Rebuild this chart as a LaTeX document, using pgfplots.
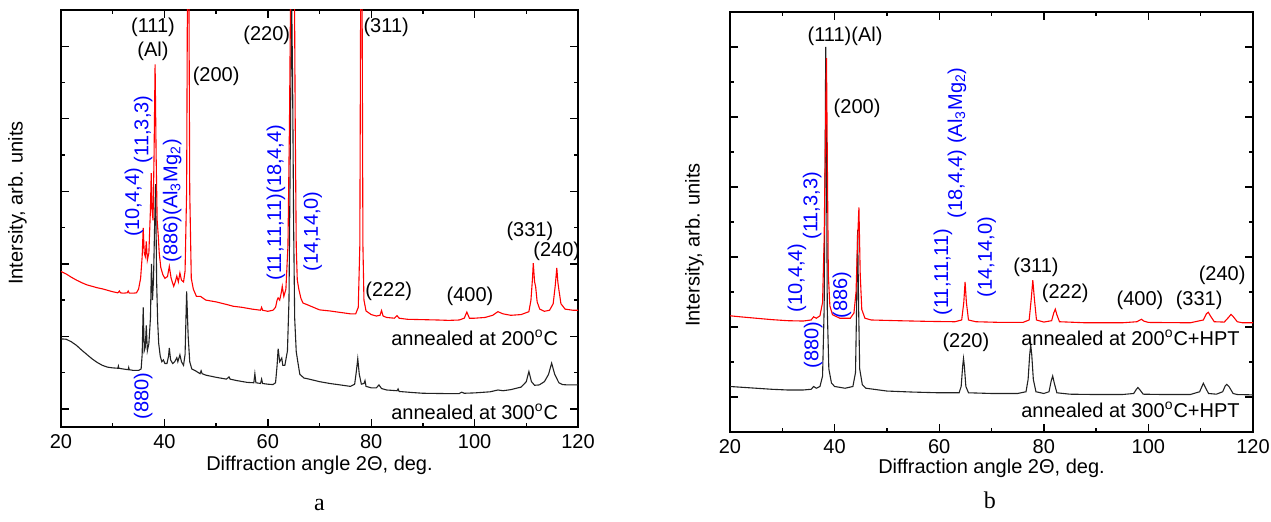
\documentclass[border=0pt]{standalone}
\usepackage{fontspec}
\setmainfont{Liberation Sans}
\newfontfamily\capfont{Liberation Serif}
\usepackage{pgfplots}
\pgfplotsset{compat=1.18}
\definecolor{cR}{HTML}{FF0000}
\definecolor{cK}{HTML}{222222}
\definecolor{cB}{HTML}{0000FF}
\pgfplotsset{
  xrd/.style={
    scale only axis, clip mode=individual,
    xmin=20, xmax=120, xtick={20,40,...,120}, minor x tick num=1,
    ytick={0,2,...,10}, minor ytick={1,3,...,9}, yticklabels={},
    major tick length=4pt, minor tick length=2pt,
    axis line style={line width=0.9pt}, tick style={line width=0.7pt,black},
    /pgf/number format/assume math mode=true,
    xlabel={Diffraction angle 2Θ, deg.}, ylabel={Intersity, arb. units}},
  spec/.style={line width=0.55pt, mark=none},
}
\begin{document}
\begin{tikzpicture}
\path[use as bounding box] (0,0) rectangle (635.5pt,261pt);

% ---------- panel a ----------
\begin{axis}[xrd, at={(30.5pt,47.5pt)}, anchor=south west,
  width=258.5pt, height=208.5pt, ymin=-0.5, ymax=11,
  xlabel style={at={(axis description cs:0.5,-0.091)},anchor=center},
  ylabel style={at={(axis description cs:-0.084,0.537)},anchor=center}]
\addplot[spec,cK] coordinates {
(20,1.93)(21,1.92)(22,1.85)(23,1.75)(24,1.62)(25,1.5)(26,1.38)(27,1.28)(28,1.2)(29,1.15)(30,1.13)
(31,1.12)(31.1,1.18)(31.2,1.12)(32,1.1)(33,1.08)(33.1,1.14)(33.2,1.08)(34,1.06)(35,1.06)(35.5,1.1)
(35.7,1.5)(35.9,2.8)(36.1,1.6)(36.3,1.7)(36.5,2.3)(36.7,1.6)(37.0,1.8)(37.3,2.5)(37.5,4.0)(37.7,3.0)
(37.9,3.6)(38.1,5.0)(38.3,6.2)(38.5,3.5)(38.7,2.4)(38.9,1.8)(39.2,1.45)(39.5,1.3)(39.8,1.35)(40.1,1.25)
(40.5,1.25)(40.8,1.45)(40.95,1.68)(41.2,1.35)(41.6,1.25)(42.0,1.3)(42.4,1.41)(42.6,1.3)(43.0,1.49)
(43.3,1.3)(43.7,1.2)(44.0,1.5)(44.3,3.24)(44.6,2.0)(44.9,1.3)(45.3,1.1)(46,1.05)(46.9,0.97)(47.1,1.05)
(47.3,0.97)(48,0.93)(50,0.87)(52,0.82)(52.5,0.88)(52.7,0.82)(54,0.78)(56,0.73)(57.3,0.72)(57.5,0.97)
(57.7,0.72)(58.6,0.7)(58.8,0.82)(59,0.7)(60,0.68)(61,0.67)(61.5,0.72)(61.8,1.2)(62.0,1.66)(62.3,1.3)
(62.5,1.35)(62.7,1.4)(62.9,1.2)(63.3,1.2)(63.8,1.6)(64.1,3.0)(64.4,8.0)(64.6,11.5)(64.8,9.0)(65.0,5.0)
(65.2,2.5)(65.5,1.58)(65.8,1.3)(66.2,0.95)(67,0.85)(68,0.82)(70,0.75)(72,0.7)(74,0.66)(76,0.62)
(76.8,0.68)(77.1,1.0)(77.4,1.38)(77.7,0.95)(78.1,0.68)(78.6,0.7)(78.8,0.78)(79,0.62)(80,0.58)(81,0.58)
(81.5,0.66)(82,0.56)(83,0.52)(85,0.5)(85.2,0.55)(85.4,0.48)(88,0.45)(90,0.43)(95,0.42)(97,0.42)
(97.5,0.46)(98,0.43)(100,0.44)(103,0.47)(104.5,0.52)(105.5,0.5)(107,0.53)(109,0.6)(110,0.75)
(110.5,1.03)(111,0.75)(111.6,0.65)(112.5,0.66)(113.5,0.75)(114.3,0.95)(114.9,1.26)(115.5,0.95)
(116.3,0.72)(117,0.67)(118,0.66)(120,0.66)};
\addplot[spec,cR] coordinates {
(20,3.79)(21,3.72)(22,3.63)(23,3.55)(24,3.48)(25,3.42)(26,3.38)(27,3.34)(28,3.31)(29,3.27)(30,3.23)
(31,3.2)(31.3,3.25)(31.5,3.2)(32,3.19)(32.8,3.2)(33,3.25)(33.2,3.19)(34,3.19)(34.6,3.2)(35,3.3)
(35.4,3.6)(35.7,4.2)(35.9,4.99)(36.1,4.3)(36.3,4.2)(36.5,4.62)(36.7,4.1)(37.0,4.3)(37.3,5.5)
(37.45,6.5)(37.6,5.5)(37.8,5.2)(38.0,7.0)(38.2,9.5)(38.4,7.0)(38.6,5.2)(38.8,4.8)(39.0,4.3)(39.3,3.9)
(39.7,3.7)(40.1,3.6)(40.6,3.65)(40.95,3.93)(41.3,3.6)(41.8,3.38)(42.1,3.5)(42.4,3.66)(42.7,3.5)
(43.0,3.75)(43.3,3.55)(43.7,3.5)(44.0,3.8)(44.3,6)(44.5,13)(44.7,13)(44.9,6)(45.2,3.6)(45.6,3.3)
(46.2,3.1)(47,3.1)(47.5,3.05)(48,3.0)(50,2.95)(52,2.88)(53.3,2.83)(55,2.8)(57,2.75)(58.6,2.72)
(58.8,2.8)(59,2.72)(60,2.69)(61,2.72)(61.5,2.8)(61.8,3.0)(62.0,3.06)(62.3,3.0)(62.6,3.2)(62.8,3.38)
(63.1,3.1)(63.5,3.3)(63.9,4.5)(64.2,8)(64.5,13)(65.1,13)(65.3,8)(65.5,4.5)(65.7,3.56)(66,3.3)
(66.4,3.05)(66.8,2.92)(68,2.85)(70,2.73)(72,2.7)(74,2.66)(76,2.62)(77,2.62)(77.5,2.8)(77.8,4.5)
(78.0,13)(78.2,13)(78.4,4.5)(78.6,3.0)(79,2.7)(80,2.6)(81,2.56)(81.7,2.58)(82,2.71)(82.3,2.56)
(83,2.52)(84.5,2.5)(85,2.57)(85.4,2.5)(87,2.47)(90,2.46)(93,2.45)(95,2.44)(97,2.45)(98,2.5)
(98.5,2.67)(99,2.5)(100,2.5)(102,2.52)(103.5,2.58)(104.5,2.68)(105.5,2.62)(107,2.58)(109,2.6)
(110.5,2.68)(110.9,3.0)(111.2,3.6)(111.35,4.02)(111.6,3.5)(111.8,3.38)(112.1,2.95)(112.6,2.75)
(113.5,2.69)(114.5,2.72)(115.2,2.9)(115.6,3.4)(115.9,3.89)(116.1,3.5)(116.3,3.29)(116.7,2.9)
(117.5,2.75)(119,2.72)(120,2.72)};
% reflections
\node at (axis cs:37.8,10.52) {(111)};
\node at (axis cs:37.8,9.86) {(Al)};
\node at (axis cs:50.0,9.17) {(200)};
\node at (axis cs:59.8,10.3) {(220)};
\node at (axis cs:82.9,10.52) {(311)};
\node at (axis cs:83.4,3.23) {(222)};
\node at (axis cs:99.1,3.09) {(400)};
\node at (axis cs:110.7,4.89) {(331)};
\node at (axis cs:115.9,4.34) {(240)};
\node[anchor=east] at (axis cs:117.5,1.96) {annealed at 200\textsuperscript{o}C};
\node[anchor=east] at (axis cs:117.5,-0.08) {annealed at 300\textsuperscript{o}C};
\begin{scope}[every node/.style={cB,rotate=90}]
\node at (axis cs:34.1,5.69) {(10,4,4)};
\node at (axis cs:35.9,7.71) {(11,3,3)};
\node at (axis cs:41.5,5.74) {(886)(Al\textsubscript{3}Mg\textsubscript{2})};
\node at (axis cs:35.9,0.36) {(880)};
\node at (axis cs:61.6,5.69) {(11,11,11)(18,4,4)};
\node at (axis cs:68.7,4.89) {(14,14,0)};
\end{scope}
\node[font=\capfont\large] at (axis description cs:0.5,-0.187) {a};
\end{axis}

% ---------- panel b ----------
\begin{axis}[xrd, at={(365pt,45pt)}, anchor=south west,
  width=261.5pt, height=210pt, ymin=-1, ymax=11,
  xlabel style={at={(axis description cs:0.5,-0.086)},anchor=center},
  ylabel style={at={(axis description cs:-0.068,0.445)},anchor=center}]
\addplot[spec,cK] coordinates {
(20,0.3)(22,0.28)(25,0.25)(28,0.22)(31,0.2)(34,0.2)(35.5,0.22)(36,0.3)(36.5,0.25)(37.2,0.3)
(37.7,0.6)(38.0,2.5)(38.2,7)(38.3,10.0)(38.45,7)(38.6,2.5)(38.9,0.8)(39.4,0.4)(40,0.3)(42,0.25)
(43.5,0.3)(44,0.7)(44.2,2.5)(44.4,4.77)(44.6,2.5)(44.8,0.8)(45.3,0.35)(46,0.25)(50,0.17)(55,0.14)
(60,0.12)(63.8,0.12)(64.2,0.3)(64.5,0.9)(64.65,1.1)(64.8,0.9)(65.1,0.3)(65.6,0.12)(70,0.1)(75,0.1)
(76.6,0.15)(77.0,0.5)(77.3,1.2)(77.5,1.49)(77.7,1.2)(78.0,0.5)(78.5,0.15)(80,0.1)(81.0,0.15)
(81.4,0.45)(81.7,0.6)(82.0,0.4)(82.5,0.12)(85,0.08)(90,0.07)(95,0.07)(97.2,0.1)(97.7,0.22)(98,0.27)
(98.4,0.2)(99,0.08)(103,0.07)(108,0.07)(109.8,0.15)(110.3,0.32)(110.5,0.39)(110.8,0.3)(111.5,0.1)
(113,0.08)(114.2,0.15)(114.7,0.32)(115,0.36)(115.4,0.3)(116.2,0.1)(117,0.07)(120,0.06)};
\addplot[spec,cR] coordinates {
(20,2.32)(22,2.29)(25,2.25)(28,2.21)(31,2.18)(34,2.17)(35.5,2.2)(36,2.29)(36.5,2.25)(37.2,2.32)
(37.7,2.7)(38.0,4.5)(38.3,8)(38.45,9.68)(38.6,7)(38.8,3.5)(39.1,2.6)(39.6,2.35)(41,2.25)(43,2.25)
(43.7,2.4)(44.1,3.0)(44.4,4.5)(44.65,5.42)(44.9,3.5)(45.2,2.5)(45.8,2.25)(47,2.2)(52,2.18)(58,2.16)
(63,2.15)(64.3,2.2)(64.7,2.7)(64.95,3.29)(65.2,2.7)(65.6,2.2)(67,2.15)(72,2.13)(76,2.13)(77.2,2.2)
(77.6,2.8)(77.9,3.34)(78.2,2.8)(78.6,2.2)(80,2.14)(81.5,2.18)(81.9,2.4)(82.2,2.51)(82.5,2.35)
(83,2.15)(88,2.12)(95,2.12)(97.8,2.15)(98.4,2.2)(98.7,2.22)(99.1,2.17)(100,2.13)(108,2.12)
(110.5,2.2)(111.1,2.38)(111.45,2.42)(111.8,2.33)(112.6,2.15)(114.5,2.14)(115.3,2.27)(115.8,2.36)
(116.2,2.3)(117,2.15)(118,2.12)(120,2.12)};
\node at (axis cs:42.0,10.31) {(111)(Al)};
\node at (axis cs:44.3,8.26) {(200)};
\node at (axis cs:65.1,1.57) {(220)};
\node at (axis cs:78.5,3.71) {(311)};
\node at (axis cs:84.1,2.97) {(222)};
\node at (axis cs:98.4,2.77) {(400)};
\node at (axis cs:109.7,2.77) {(331)};
\node at (axis cs:114.1,3.49) {(240)};
\node[anchor=east] at (axis cs:118.8,1.69) {annealed at 200\textsuperscript{o}C+HPT};
\node[anchor=east] at (axis cs:118.8,-0.37) {annealed at 300\textsuperscript{o}C+HPT};
\begin{scope}[every node/.style={cB,rotate=90}]
\node at (axis cs:32.8,3.4) {(10,4,4)};
\node at (axis cs:35.7,5.46) {(11,3,3)};
\node at (axis cs:35.9,1.49) {(880)};
\node at (axis cs:41.4,2.91) {(886)};
\node at (axis cs:60.7,3.57) {(11,11,11)};
\node at (axis cs:63.4,7.26) {(18,4,4) (Al\textsubscript{3}Mg\textsubscript{2})};
\node at (axis cs:69.1,4.0) {(14,14,0)};
\end{scope}
\node[font=\capfont\large] at (axis description cs:0.497,-0.162) {b};
\end{axis}
\end{tikzpicture}
\end{document}
